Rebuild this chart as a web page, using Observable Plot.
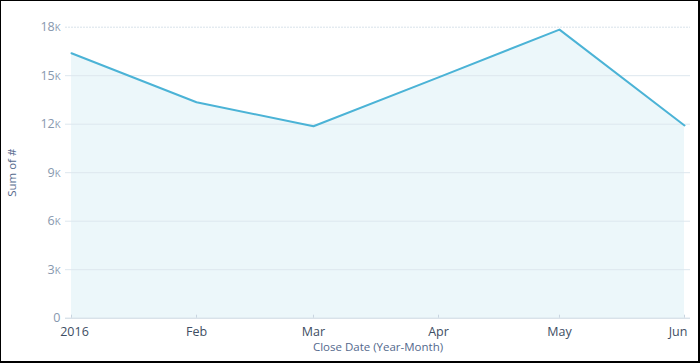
<!DOCTYPE html>
<html>
<head>
<meta charset="utf-8">
<script src="https://cdn.jsdelivr.net/npm/d3@7"></script>
<script src="https://cdn.jsdelivr.net/npm/@observablehq/plot@0.6"></script>
<style>
  html, body { margin: 0; padding: 0; background: #fff; }
  #wrap { position: relative; width: 700px; height: 363px; overflow: hidden; }
  #wrap::after { content: ""; position: absolute; left: 0; top: 0; right: 0; bottom: 0;
    border-left: 1px solid #000; border-top: 1px solid #000; border-right: 2px solid #000; border-bottom: 2px solid #000;
    pointer-events: none; box-sizing: border-box; }
  svg { display: block; }
</style>
</head>
<body>
<div id="wrap"></div>
<script>
const months = ["2016-01", "2016-02", "2016-03", "2016-04", "2016-05", "2016-06"];
const monthLabels = ["2016", "Feb", "Mar", "Apr", "May", "Jun"];
const values = [16390, 13360, 11870, 14900, 17850, 11920];
const yTicks = [0, 3000, 6000, 9000, 12000, 15000, 18000];

const dates = months.map(m => new Date(m + "-01T00:00:00Z"));
const data = dates.map((d, i) => ({date: d, value: values[i]}));
const labelOf = d => monthLabels[dates.findIndex(e => +e === +d)];
const fmtY = v => v === 0 ? "0" : (v / 1000) + "K";

const font = "'Open Sans', sans-serif";

const chart = Plot.plot({
  width: 700,
  height: 363,
  marginLeft: 71,
  marginRight: 16,
  marginTop: 26.7,
  marginBottom: 45.3,
  style: {fontFamily: font, fontSize: "12px", background: "transparent", overflow: "visible"},
  x: {type: "utc", domain: [dates[0], dates[dates.length - 1]]},
  y: {domain: [0, 18000]},
  marks: [
    Plot.areaY(data, {x: "date", y: "value", fill: "#ecf7fa"}),
    Plot.ruleY(yTicks.filter(v => v > 0 && v < 18000), {y: d => d, stroke: "#dde7ee", strokeWidth: 1, insetLeft: -6, insetRight: -6}),
    Plot.ruleY([18000], {y: d => d, stroke: "#d8e2ea", strokeWidth: 1, strokeDasharray: "2,1", insetLeft: -6, insetRight: -6}),
    Plot.ruleY([0], {y: d => d, stroke: "#c9d5e0", strokeWidth: 1, insetLeft: -6, insetRight: -6}),
    Plot.ruleX(dates, {x: d => d, y1: 0, y2: 0, insetTop: -3, stroke: "#c9d5e0", strokeWidth: 1}),
    Plot.lineY(data, {x: "date", y: "value", stroke: "#4bb3d6", strokeWidth: 2}),
    Plot.axisY({ticks: yTicks, tickFormat: fmtY, tickSize: 0, tickPadding: 11, fill: "#8798ae", fontSize: 12.5,
      label: "Sum of #", labelAnchor: "center", labelArrow: "none", labelOffset: 64}),
    Plot.axisX({ticks: dates.slice(0, 1), tickFormat: labelOf, tickSize: 0, tickPadding: 9, dx: 3, fill: "#3e4e63", fontSize: 12.5, label: null}),
    Plot.axisX({ticks: dates.slice(1, -1), tickFormat: labelOf, tickSize: 0, tickPadding: 9, fill: "#3e4e63", fontSize: 12.5, label: null}),
    Plot.axisX({ticks: dates.slice(-1), tickFormat: labelOf, tickSize: 0, tickPadding: 9, dx: -6.5, fill: "#3e4e63", fontSize: 12.5,
      label: "Close Date (Year-Month)", labelAnchor: "center", labelArrow: "none", labelOffset: 33})
  ]
});

// style axis titles and render small-capital K
d3.select(chart).selectAll("g[aria-label='y-axis label'] text, g[aria-label='x-axis label'] text")
  .attr("fill", "#54698d").style("font-size", "11.5px");
d3.select(chart).selectAll("g[aria-label='y-axis tick label'] text").each(function() {
  const t = d3.select(this);
  const s = t.text();
  if (s.endsWith("K")) {
    t.text(s.slice(0, -1));
    t.append("tspan").attr("font-size", "9.5px").text("K");
  }
});
document.getElementById("wrap").appendChild(chart);
</script>
</body>
</html>
